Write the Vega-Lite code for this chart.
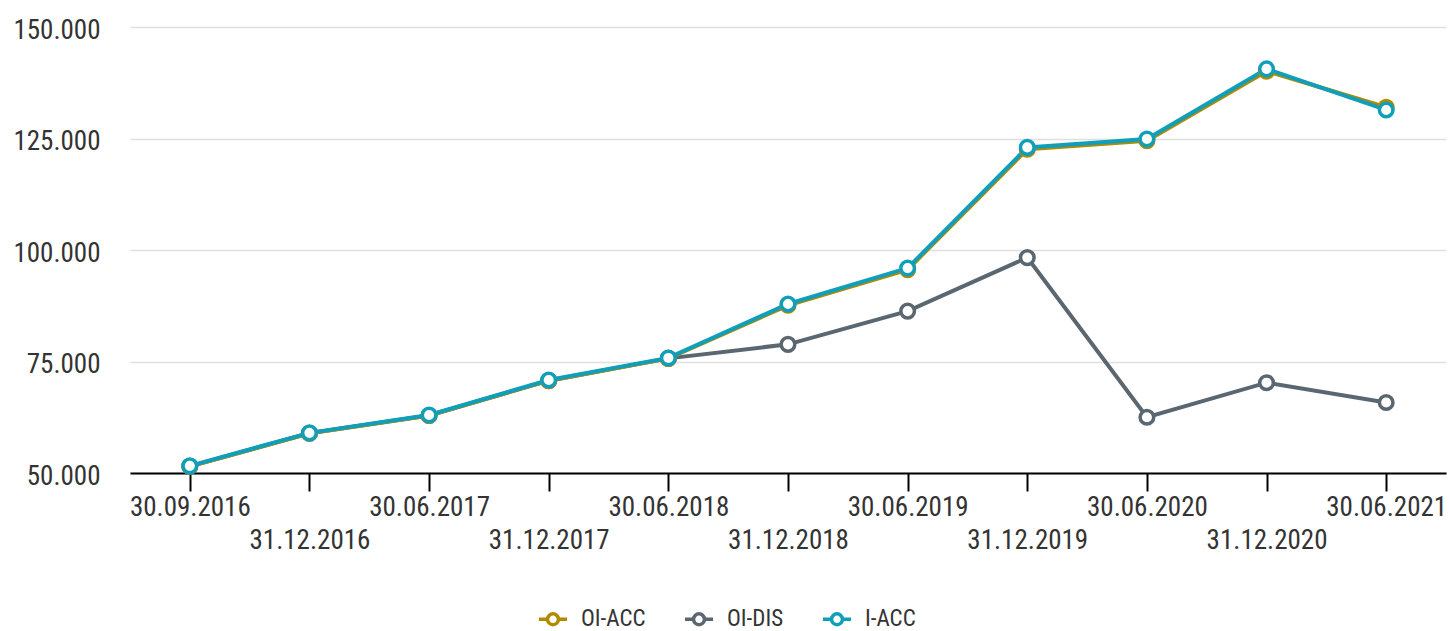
{
  "$schema": "https://vega.github.io/schema/vega-lite/v6.json",
  "width": 1316,
  "height": 446,
  "autosize": {"type": "none"},
  "padding": {"left": 130, "top": 27, "right": 4, "bottom": 158},
  "config": {
    "locale": {"number": {"decimal": ",", "thousands": ".", "grouping": [3], "currency": ["", " €"]}},
    "font": "Roboto Condensed, Liberation Sans Narrow, DejaVu Sans Condensed, Roboto",
    "view": {"stroke": null},
    "axis": {"labelFont": "Roboto Condensed, Liberation Sans Narrow, DejaVu Sans Condensed, Roboto"},
    "legend": {"labelFont": "Roboto Condensed, Liberation Sans Narrow, DejaVu Sans Condensed, Roboto"}
  },
  "data": {
    "values": [
      {"date": "30.09.2016", "series": "OI-DIS", "value": 51500},
      {"date": "31.12.2016", "series": "OI-DIS", "value": 58900},
      {"date": "30.06.2017", "series": "OI-DIS", "value": 62900},
      {"date": "31.12.2017", "series": "OI-DIS", "value": 70700},
      {"date": "30.06.2018", "series": "OI-DIS", "value": 75700},
      {"date": "31.12.2018", "series": "OI-DIS", "value": 78850},
      {"date": "30.06.2019", "series": "OI-DIS", "value": 86300},
      {"date": "31.12.2019", "series": "OI-DIS", "value": 98300},
      {"date": "30.06.2020", "series": "OI-DIS", "value": 62500},
      {"date": "31.12.2020", "series": "OI-DIS", "value": 70250},
      {"date": "30.06.2021", "series": "OI-DIS", "value": 65800},
      {"date": "30.09.2016", "series": "OI-ACC", "value": 51500},
      {"date": "31.12.2016", "series": "OI-ACC", "value": 58900},
      {"date": "30.06.2017", "series": "OI-ACC", "value": 62900},
      {"date": "31.12.2017", "series": "OI-ACC", "value": 70700},
      {"date": "30.06.2018", "series": "OI-ACC", "value": 75700},
      {"date": "31.12.2018", "series": "OI-ACC", "value": 87600},
      {"date": "30.06.2019", "series": "OI-ACC", "value": 95600},
      {"date": "31.12.2019", "series": "OI-ACC", "value": 122600},
      {"date": "30.06.2020", "series": "OI-ACC", "value": 124500},
      {"date": "31.12.2020", "series": "OI-ACC", "value": 140100},
      {"date": "30.06.2021", "series": "OI-ACC", "value": 132000},
      {"date": "30.09.2016", "series": "I-ACC", "value": 51600},
      {"date": "31.12.2016", "series": "I-ACC", "value": 59000},
      {"date": "30.06.2017", "series": "I-ACC", "value": 63000},
      {"date": "31.12.2017", "series": "I-ACC", "value": 70850},
      {"date": "30.06.2018", "series": "I-ACC", "value": 75800},
      {"date": "31.12.2018", "series": "I-ACC", "value": 87900},
      {"date": "30.06.2019", "series": "I-ACC", "value": 95950},
      {"date": "31.12.2019", "series": "I-ACC", "value": 123000},
      {"date": "30.06.2020", "series": "I-ACC", "value": 124900},
      {"date": "31.12.2020", "series": "I-ACC", "value": 140600},
      {"date": "30.06.2021", "series": "I-ACC", "value": 131400}
    ]
  },
  "encoding": {
    "x": {
      "field": "date", "type": "ordinal", "sort": null,
      "scale": {"type": "point", "padding": 0.5},
      "axis": {
        "title": null, "labelAngle": 0, "domainColor": "#000000", "domainWidth": 2,
        "tickColor": "#000000", "tickWidth": 2, "tickSize": 18, "labelPadding": 3,
        "labelFontSize": 27, "labelColor": "#333333", "labelBaseline": "top",
        "labelLineHeight": 33, "labelOverlap": false,
        "labelExpr": "indexof(datum.label, '31.12') === 0 ? ['', datum.label] : datum.label",
        "grid": false
      }
    },
    "y": {
      "field": "value", "type": "quantitative",
      "scale": {"domain": [50000, 150000], "nice": false, "zero": false},
      "axis": {
        "title": null, "values": [50000, 75000, 100000, 125000, 150000], "format": ",.0f",
        "domain": false, "ticks": false, "labelPadding": 30, "labelFontSize": 27,
        "labelColor": "#333333", "gridColor": "#e0e0e0", "gridWidth": 1.5, "labelOffset": 3
      }
    },
    "color": {
      "field": "series", "type": "nominal",
      "scale": {"domain": ["OI-ACC", "OI-DIS", "I-ACC"], "range": ["#b08a00", "#5a6670", "#0f9fba"]},
      "legend": {
        "title": null, "orient": "none", "direction": "horizontal", "legendX": 407, "legendY": 576,
        "symbolType": "M-1,0L-0.39,0M0.39,0L1,0M-0.39,0A0.39,0.39,0,1,1,0.39,0A0.39,0.39,0,1,1,-0.39,0Z",
        "symbolSize": 784, "symbolStrokeWidth": 3.5, "symbolFillColor": "white",
        "labelFontSize": 23, "labelColor": "#333333", "labelOffset": 12, "columnPadding": 32,
        "encode": {
          "symbols": {"update": {"size": {"value": 784}, "strokeWidth": {"value": 3.5}, "fill": {"value": "white"}, "fillOpacity": {"value": 1}, "opacity": {"value": 1}}}
        }
      }
    }
  },
  "layer": [
    {"mark": {"type": "line", "strokeWidth": 4}},
    {"mark": {"type": "point", "filled": false, "fill": "white", "fillOpacity": 1, "opacity": 1, "size": 185, "strokeWidth": 3.5}}
  ]
}
